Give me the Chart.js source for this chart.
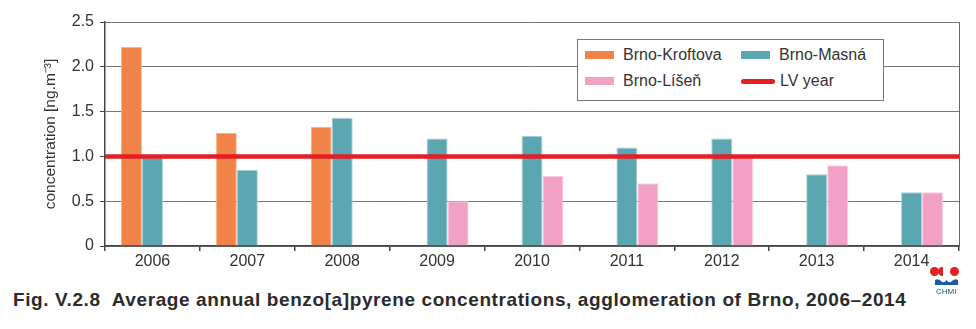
<!DOCTYPE html>
<html>
<head>
<meta charset="utf-8">
<script src="https://cdn.jsdelivr.net/npm/chart.js@4.4.1/dist/chart.umd.min.js"></script>
<style>
  body { margin: 0; background: #fff; font-family: "Liberation Sans", Arial, sans-serif; }
  #wrap { position: relative; width: 976px; height: 329px; }
  #chart { position: absolute; left: 0; top: 0; }
  #legend {
    position: absolute; left: 577px; top: 39px; width: 305px; height: 58px;
    border: 1px solid #777; background: #fff;
    display: grid; grid-template-columns: 156px 149px; grid-auto-rows: 26px;
    padding-top: 2px; box-sizing: content-box;
  }
  #legend .item { display: flex; align-items: center; font-size: 16px; color: #333; }
  #legend .sw { width: 29px; height: 8px; margin-left: 7px; margin-right: 9px; }
  #legend .ln { width: 34px; height: 5px; border-radius: 3px; margin-left: 7px; margin-right: 5px; }
  #caption {
    position: absolute; left: 13px; top: 289px; font-size: 19px; font-weight: bold; color: #2b2b2b;
    white-space: pre; letter-spacing: 0.6px;
  }
  .dot { position: absolute; background: #e31e24; border-radius: 50%; }
  #chmi { position: absolute; left: 936px; top: 287px; font-size: 8px; color: #1a4f8f; }
</style>
</head>
<body>
<div id="wrap">
  <canvas id="chart" width="976" height="276"></canvas>
  <div id="legend"></div>
  <div id="caption">Fig. V.2.8  Average annual benzo[a]pyrene concentrations, agglomeration of Brno, 2006–2014</div>
  <div class="dot" style="left:930px;top:267px;width:9px;height:9px;"></div>
  <div class="dot" style="left:938px;top:267px;width:5px;height:9px;border-radius:5px 0 0 5px;"></div>
  <div class="dot" style="left:950px;top:267px;width:9px;height:9px;"></div>
  <svg style="position:absolute;left:934px;top:278px" width="25" height="8">
    <path d="M1 7 L1 2 Q4 0 7 3 Q10 6 12.5 2 Q15 6 18 3 Q21 0 24 2 L24 7 Z" fill="#1a5aa6"/>
  </svg>
  <div id="chmi">CHMI</div>
</div>
<script>
const years = ["2006", "2007", "2008", "2009", "2010", "2011", "2012", "2013", "2014"];
const kroftova = [2.22, 1.26, 1.33, null, null, null, null, null, null];
const masna = [0.99, 0.85, 1.43, 1.2, 1.23, 1.1, 1.2, 0.8, 0.6];
const lisen = [null, null, null, 0.5, 0.78, 0.7, 1.0, 0.9, 0.6];
const limitLabel = "LV year";
const limitValue = 1.0;
const limitColor = "#e31e24";
const yTicks = [0, 0.5, 1.0, 1.5, 2.0, 2.5];

const font = { family: "'Liberation Sans', Arial, sans-serif", size: 16 };

function barSet(label, data, color, edge) {
  return {
    label,
    data,
    backgroundColor: color,
    borderColor: edge,
    borderWidth: { left: 1, right: 1, top: 1, bottom: 0 },
    categoryPercentage: 0.664,
    barPercentage: 1
  };
}

// annual limit value, drawn across the whole plot at y = limitValue
const limitLine = {
  id: "limitLine",
  afterDatasetsDraw(chart) {
    const { ctx, chartArea } = chart;
    const y = chart.scales.y.getPixelForValue(limitValue);
    ctx.save();
    ctx.strokeStyle = limitColor;
    ctx.lineWidth = 4.5;
    ctx.beginPath();
    ctx.moveTo(chartArea.left, y);
    ctx.lineTo(chartArea.right, y);
    ctx.stroke();
    ctx.restore();
  }
};

const chart = new Chart(document.getElementById("chart"), {
  type: "bar",
  data: {
    labels: years,
    datasets: [
      barSet("Brno-Kroftova", kroftova, "#f08448", "#f6b48f"),
      barSet("Brno-Masná", masna, "#5aa6b1", "#a9d2d8"),
      barSet("Brno-Líšeň", lisen, "#f1a1c6", "#f8d0e2")
    ]
  },
  plugins: [limitLine],
  options: {
    responsive: false,
    animation: false,
    layout: { padding: { left: 0, right: 17, top: 22, bottom: 0 } },
    plugins: { legend: { display: false }, tooltip: { enabled: false } },
    scales: {
      x: {
        grid: { offset: true, drawOnChartArea: false, drawTicks: true, tickLength: 5, color: "#444", lineWidth: 1.5 },
        border: { color: "#444", width: 1.5 },
        ticks: { font, color: "#333", padding: 1 },
        afterFit: (s) => { s.height = 30; }
      },
      y: {
        min: 0,
        max: 2.5,
        afterBuildTicks: (s) => { s.ticks = yTicks.map((v) => ({ value: v })); },
        grid: { color: "#777", lineWidth: 1, tickLength: 5, drawTicks: true, tickColor: "#444" },
        border: { color: "#444", width: 1.5 },
        ticks: {
          font, color: "#333", padding: 6,
          callback: (v) => (v === 0 ? "0" : v.toFixed(1))
        },
        title: {
          display: true, text: "concentration [ng.m⁻³]",
          font: { family: font.family, size: 15.5 }, color: "#333",
          padding: { top: 41, bottom: 0 }
        },
        afterFit: (s) => { s.width = 105; }
      },
      y2: {
        position: "right",
        min: 0,
        max: 2.5,
        grid: { display: false },
        ticks: { display: false },
        border: { color: "#666", width: 1 },
        afterFit: (s) => { s.width = 0; }
      }
    }
  }
});

// legend built from the chart's datasets plus the limit line, 2x2 like the original
const legendEl = document.getElementById("legend");
const entries = chart.data.datasets.map((ds) => ({ label: ds.label, color: ds.backgroundColor, line: false }));
entries.push({ label: limitLabel, color: limitColor, line: true });
[0, 1, 2, 3].forEach((i) => {
  const e = entries[i];
  const item = document.createElement("div");
  item.className = "item";
  const sw = document.createElement("span");
  sw.className = e.line ? "ln" : "sw";
  sw.style.background = e.color;
  item.appendChild(sw);
  item.appendChild(document.createTextNode(e.label));
  legendEl.appendChild(item);
});
</script>
</body>
</html>
